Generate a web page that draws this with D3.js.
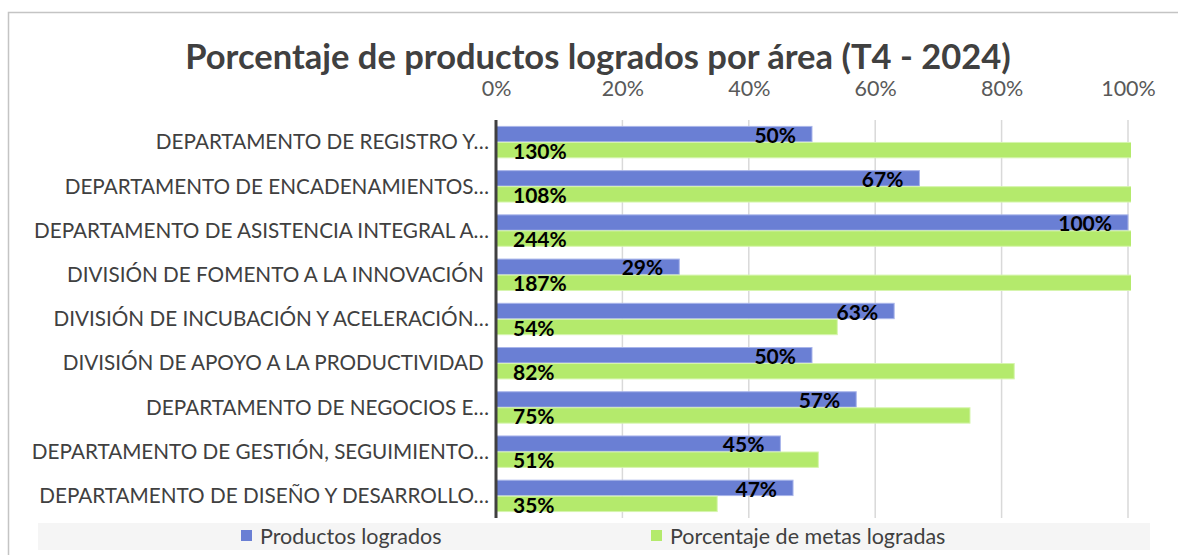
<!DOCTYPE html>
<html>
<head>
<meta charset="utf-8">
<script src="https://cdn.jsdelivr.net/npm/d3@7"></script>
<style>
    body { margin: 0; background: #fff; }
    text { font-family: Lato, "Open Sans", sans-serif; }
</style>
</head>
<body>
<div id="chart"></div>
<script>
var categories = [
    'DEPARTAMENTO DE REGISTRO Y…',
    'DEPARTAMENTO DE ENCADENAMIENTOS…',
    'DEPARTAMENTO DE ASISTENCIA INTEGRAL A…',
    'DIVISIÓN DE FOMENTO A LA INNOVACIÓN\u00A0',
    'DIVISIÓN DE INCUBACIÓN Y ACELERACIÓN…',
    'DIVISIÓN DE APOYO A LA PRODUCTIVIDAD\u00A0',
    'DEPARTAMENTO DE NEGOCIOS E…',
    'DEPARTAMENTO DE GESTIÓN, SEGUIMIENTO…',
    'DEPARTAMENTO DE DISEÑO Y DESARROLLO…'
];
var productos = [50, 67, 100, 29, 63, 50, 57, 45, 47];
var metas = [130, 108, 244, 187, 54, 82, 75, 51, 35];
var seriesNames = ['Productos logrados', 'Porcentaje de metas logradas'];
var xTicks = [0, 20, 40, 60, 80, 100];

var width = 1178, height = 555;
var margin = {top: 120, right: 50, bottom: 37, left: 496};
var colors = ['#6a7fd4', '#b4ea6c'];
var strokes = ['#a9b5ea', '#d6f5ae'];

var svg = d3.select('#chart').append('svg')
    .attr('width', width)
    .attr('height', height);

// chart frame
svg.append('rect')
    .attr('x', 8.5).attr('y', 12.5)
    .attr('width', width).attr('height', height)
    .attr('fill', 'none')
    .attr('stroke', '#c4c4c4')
    .attr('stroke-width', 1.5);

svg.append('text')
    .attr('x', 598).attr('y', 69)
    .attr('text-anchor', 'middle')
    .style('font-size', '34.5px')
    .style('font-weight', 'bold')
    .style('fill', '#404040')
    .text('Porcentaje de productos logrados por área (T4 - 2024)');

var xScale = d3.scaleLinear().domain([0, 100]).range([margin.left, 1128]);
var yScale = d3.scaleBand().domain(categories)
    .range([margin.top, height - margin.bottom])
    .paddingInner(0.29).paddingOuter(0.145);
var subScale = d3.scaleBand().domain([0, 1]).range([0, yScale.bandwidth()]).paddingInner(0.04);

svg.append('clipPath').attr('id', 'plotclip')
    .append('rect')
    .attr('x', margin.left).attr('y', margin.top)
    .attr('width', xScale(100) - margin.left + 3)
    .attr('height', height - margin.bottom - margin.top);

// gridlines
svg.append('g').attr('class', 'grid')
    .selectAll('line')
    .data(xTicks.slice(1))
    .enter().append('line')
    .attr('x1', function(d) { return xScale(d); })
    .attr('x2', function(d) { return xScale(d); })
    .attr('y1', margin.top)
    .attr('y2', height - margin.bottom)
    .attr('stroke', '#d9d9d9')
    .attr('stroke-width', 1.5);

var xAxis = svg.append('g')
    .attr('class', 'axis axis--x')
    .attr('transform', 'translate(0,102)')
    .call(d3.axisTop(xScale).tickValues(xTicks).tickSize(0).tickPadding(6)
        .tickFormat(function(d) { return d + '%'; }));
xAxis.select('.domain').remove();
xAxis.selectAll('text')
    .style('font-size', '21.5px')
    .style('fill', '#595959')
    .style('font-family', 'Lato, sans-serif');

var rows = categories.map(function(c, i) {
    return {cat: c, values: [productos[i], metas[i]]};
});

var rowg = svg.append('g')
    .attr('clip-path', 'url(#plotclip)')
    .selectAll('.row')
    .data(rows)
    .enter().append('g')
    .attr('class', 'row')
    .attr('transform', function(d) { return 'translate(0,' + yScale(d.cat) + ')'; });

rowg.selectAll('rect')
    .data(function(d) { return d.values; })
    .enter().append('rect')
    .attr('x', xScale(0))
    .attr('y', function(d, i) { return subScale(i); })
    .attr('width', function(d) { return xScale(d) - xScale(0); })
    .attr('height', subScale.bandwidth())
    .attr('fill', function(d, i) { return colors[i]; })
    .attr('stroke', function(d, i) { return strokes[i]; })
    .attr('stroke-width', 1);

// data labels
rowg.append('text')
    .attr('x', function(d) { return xScale(d.values[0]) - 16; })
    .attr('y', subScale(0) + subScale.bandwidth() + 1)
    .attr('text-anchor', 'end')
    .style('font-size', '21px')
    .style('font-weight', 'bold')
    .style('fill', '#000')
    .text(function(d) { return d.values[0] + '%'; });

rowg.append('text')
    .attr('x', xScale(0) + 17)
    .attr('y', subScale(1) + subScale.bandwidth() + 1)
    .style('font-size', '21px')
    .style('font-weight', 'bold')
    .style('fill', '#000')
    .text(function(d) { return d.values[1] + '%'; });

// category labels
svg.append('g').attr('class', 'axis axis--y')
    .selectAll('text')
    .data(categories)
    .enter().append('text')
    .attr('x', 489)
    .attr('y', function(d) { return yScale(d) + yScale.bandwidth() / 2; })
    .attr('dy', '0.35em')
    .attr('text-anchor', 'end')
    .style('font-size', '20.7px')
    .style('fill', '#404040')
    .text(function(d) { return d; });

// vertical axis line
svg.append('line')
    .attr('x1', xScale(0)).attr('x2', xScale(0))
    .attr('y1', margin.top).attr('y2', height - margin.bottom)
    .attr('stroke', '#404040')
    .attr('stroke-width', 3);

// legend
svg.append('rect')
    .attr('x', 38).attr('y', 523)
    .attr('width', 1112).attr('height', 27)
    .attr('fill', '#f5f5f5');

var legX = [241, 651];
var leg = svg.append('g').attr('class', 'legend')
    .selectAll('g')
    .data(seriesNames)
    .enter().append('g')
    .attr('transform', function(d, i) { return 'translate(' + legX[i] + ',530)'; });

leg.append('rect')
    .attr('width', 11).attr('height', 11)
    .attr('fill', function(d, i) { return colors[i]; });

leg.append('text')
    .attr('x', 19).attr('y', 13.5)
    .style('font-size', '21.5px')
    .style('fill', '#404040')
    .text(function(d) { return d; });
</script>
</body>
</html>
